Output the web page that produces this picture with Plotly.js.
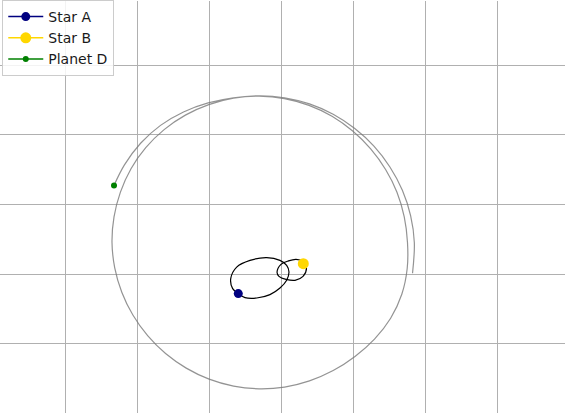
<!DOCTYPE html>
<html>
<head>
<meta charset="utf-8">
<script src="https://cdn.plot.ly/plotly-3.0.1.min.js"></script>
<style>html,body{margin:0;padding:0;background:#fff;}#chart{width:565px;height:413px;}</style>
</head>
<body>
<div id="chart"></div>
<script>
// Planet D trail
const planetX = [1.817,1.842,1.791,1.676,1.503,1.281,1.015,0.715,0.386,0.040,-0.315,-0.669,-1.013,-1.338,-1.633,-1.888,-2.093,-2.240,-2.329,-2.357,-2.319,-2.221,-2.067,-1.862,-1.613,-1.326,-1.008,-0.668,-0.315,0.040,0.386,0.715,1.018,1.289,1.513,1.668,1.743,1.747,1.702,1.601,1.443,1.236,0.986,0.699,0.379,0.038,-0.315,-0.670,-1.022,-1.364,-1.683,-1.960,-2.184,-2.329];
const planetY = [0.011,0.454,0.837,1.202,1.537,1.836,2.089,2.294,2.443,2.532,2.560,2.525,2.433,2.282,2.074,1.815,1.513,1.177,0.820,0.454,0.090,-0.261,-0.589,-0.885,-1.142,-1.351,-1.509,-1.609,-1.648,-1.623,-1.534,-1.386,-1.184,-0.935,-0.635,-0.291,0.080,0.454,0.821,1.174,1.501,1.797,2.054,2.266,2.422,2.520,2.554,2.532,2.457,2.328,2.135,1.878,1.567,1.272];

// Star A orbit
const starAX = [-0.708,-0.625,-0.440,-0.208,-0.024,0.069,0.101,0.069,-0.024,-0.163,-0.347,-0.510,-0.603,-0.681,-0.708];
const starAY = [-0.066,0.100,0.196,0.235,0.196,0.125,0.029,-0.090,-0.201,-0.295,-0.344,-0.338,-0.281,-0.209,-0.066];

// Star B orbit
const starBX = [-0.065,-0.010,0.094,0.199,0.296,0.344,0.296,0.185,0.060,-0.038,-0.065];
const starBY = [0.024,0.139,0.189,0.211,0.182,0.082,-0.033,-0.090,-0.076,-0.033,0.024];

// Current positions
const names = ["Star A","Star B","Planet D"];
const posX = [-0.603, 0.300, -2.329];
const posY = [-0.281, 0.149, 1.272];
const colors = ["#000080","#FFD700","#008000"];
const sizes = [9, 11, 6];

const traces = [
  {x: planetX, y: planetY, mode: "lines", line: {color: "rgba(120,120,120,0.8)", width: 1.2, shape: "spline", smoothing: 1, simplify: false}, showlegend: false, hoverinfo: "skip"},
  {x: starAX, y: starAY, mode: "lines", line: {color: "#000000", width: 1.2, shape: "spline", simplify: false}, showlegend: false, hoverinfo: "skip"},
  {x: starBX, y: starBY, mode: "lines", line: {color: "#000000", width: 1.2, shape: "spline", simplify: false}, showlegend: false, hoverinfo: "skip"}
];
for (let i = 0; i < names.length; i++) {
  traces.push({
    x: [posX[i]], y: [posY[i]], mode: "lines+markers", name: names[i],
    line: {color: colors[i], width: 1.5},
    marker: {color: colors[i], size: sizes[i]}
  });
}

const axisCommon = {
  showticklabels: false, ticks: "", zeroline: false, showline: false,
  showgrid: true, gridcolor: "#b0b0b0", gridwidth: 1, dtick: 1, tick0: 0, fixedrange: true
};

const layout = {
  width: 565, height: 413,
  margin: {l: 0, r: 0, t: 0, b: 0, pad: 0},
  paper_bgcolor: "#ffffff", plot_bgcolor: "#ffffff",
  font: {family: "DejaVu Sans", size: 14, color: "#000"},
  xaxis: Object.assign({range: [-3.9125, 3.9347]}, axisCommon),
  yaxis: Object.assign({range: [-1.9957, 3.9212]}, axisCommon),
  legend: {
    x: 0.004, y: 1.003, xanchor: "left", yanchor: "top",
    bgcolor: "rgba(255,255,255,0.85)", bordercolor: "#cccccc", borderwidth: 1,
    font: {family: "DejaVu Sans", size: 14, color: "#1a1a1a"},
    itemwidth: 35,
    tracegroupgap: 0
  },
  showlegend: true
};

Plotly.newPlot("chart", traces, layout, {displayModeBar: false, staticPlot: true});
</script>
</body>
</html>
